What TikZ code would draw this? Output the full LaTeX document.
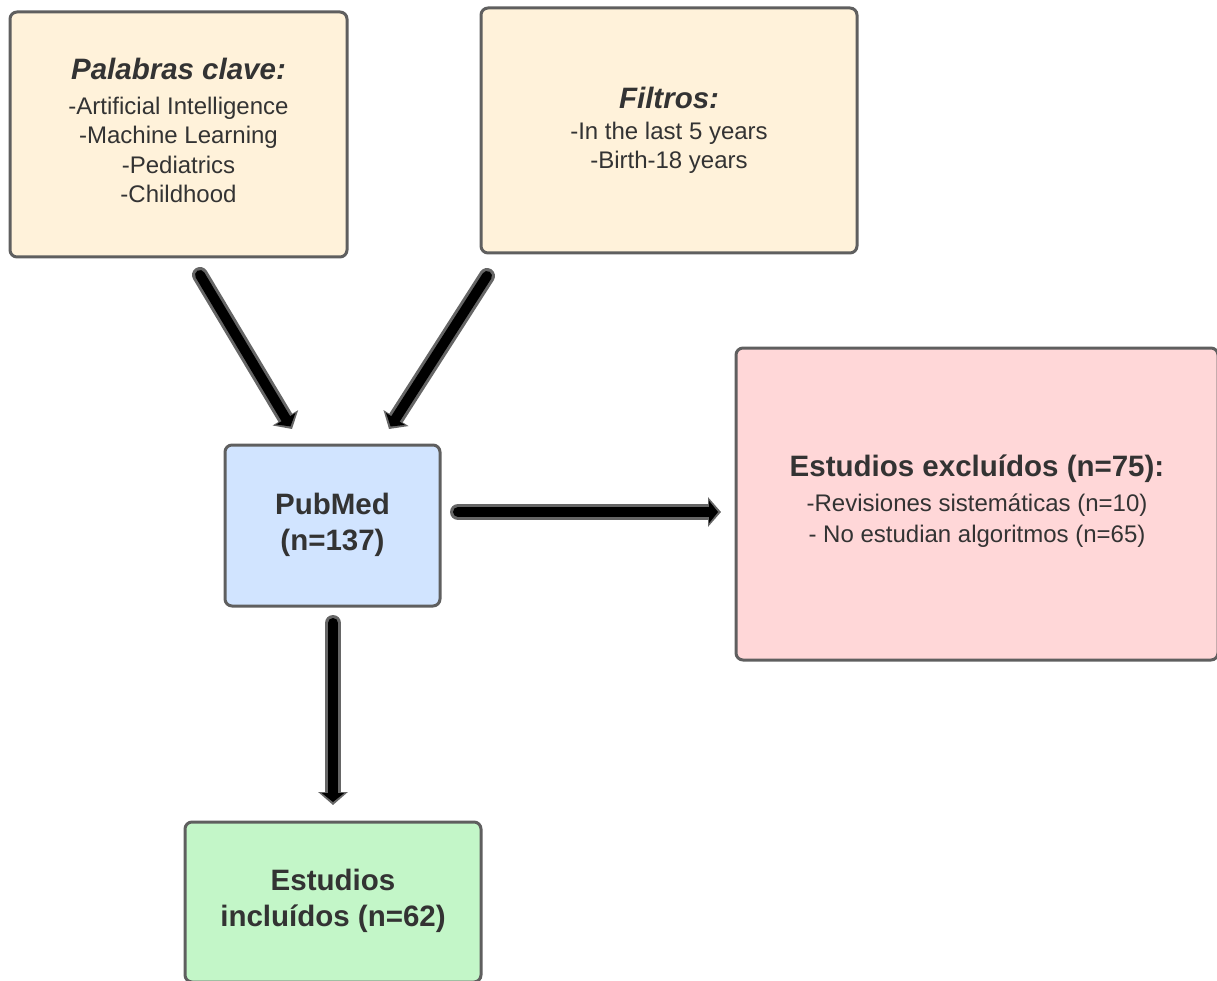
\documentclass[tikz,border=0pt]{standalone}
\usepackage{fontspec}
\setmainfont{Liberation Sans}
\usetikzlibrary{arrows.meta}
\definecolor{bordergray}{HTML}{5F5F5F}
\definecolor{textgray}{HTML}{333333}
\definecolor{cream}{HTML}{FFF2DA}
\definecolor{lightblue}{HTML}{D1E4FF}
\definecolor{lightpink}{HTML}{FFD7D8}
\definecolor{lightgreen}{HTML}{C3F6C8}
\definecolor{arrowgray}{HTML}{666666}
\newcommand\bodyfont{\fontsize{24}{29.5}\selectfont}
\newcommand\titlefont{\fontsize{29.5}{36}\selectfont\bfseries}
\newcommand\fatarrow[2]{%
  \draw[arrowout] #1 -- #2;
  \draw[arrowin] #1 -- #2;}
\begin{document}
\begin{tikzpicture}[x=1pt,y=-1pt,
  box/.style={draw=bordergray, line width=3pt, rounded corners=7pt, inner sep=0pt},
  txt/.style={align=center, text=textgray, inner sep=0pt, font=\bodyfont},
  arrowout/.style={draw=arrowgray, line width=16pt, line cap=round,
    -{Triangle[length=13pt,width=29pt]}},
  arrowin/.style={draw=black, line width=10pt, line cap=round,
    shorten >=3pt, -{Triangle[length=9pt,width=22pt]}}]
\useasboundingbox (0,0) rectangle (1217,981);

\node[box, fill=cream, minimum width=337pt, minimum height=245pt] (kw) at (178.5,134.5) {};
\node[txt] (kwt) at ([yshift=4pt]kw.center)
  {{\titlefont\itshape Palabras clave:}\\[5pt]
   -Artificial Intelligence\\ -Machine Learning\\ -Pediatrics\\ -Childhood};

\node[box, fill=cream, minimum width=376pt, minimum height=245pt] (fil) at (669,130.5) {};
\node[txt] (filt) at (fil.center)
  {{\titlefont\itshape Filtros:}\\[1pt]
   -In the last 5 years\\ -Birth-18 years};

\node[box, fill=lightblue, minimum width=215pt, minimum height=161pt] (pub) at (332.5,525.5) {};
\node[txt, font=\titlefont] (pubt) at ([yshift=1pt]pub.center) {PubMed\\(n=137)};

\node[box, fill=lightpink, minimum width=482pt, minimum height=312pt] (exc) at (977,504) {};
\node[txt] (exct) at ([yshift=3pt]exc.center)
  {{\titlefont Estudios excluídos (n=75):}\\[5pt]
   -Revisiones sistemáticas (n=10)\\[1.5pt] - No estudian algoritmos (n=65)};

\node[box, fill=lightgreen, minimum width=296pt, minimum height=160pt] (inc) at (333,902) {};
\node[txt, font=\titlefont] (inct) at ([yshift=1pt]inc.center) {Estudios\\incluídos (n=62)};

\coordinate (a1s) at (200,275);
\coordinate (a1e) at (292,429);
\coordinate (a2s) at (487,276);
\coordinate (a2e) at (389,429);
\coordinate (a3s) at (458,512);
\coordinate (a3e) at (721,512);
\coordinate (a4s) at (333,623);
\coordinate (a4e) at (333,805);

\fatarrow{(a1s)}{(a1e)}
\fatarrow{(a2s)}{(a2e)}
\fatarrow{(a3s)}{(a3e)}
\fatarrow{(a4s)}{(a4e)}
\end{tikzpicture}
\end{document}
